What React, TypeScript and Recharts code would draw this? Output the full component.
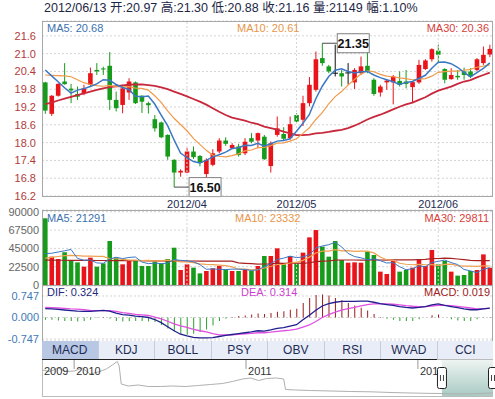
import React from "react";
import {
  Bar,
  CartesianGrid,
  Cell,
  ComposedChart,
  Line,
  LineChart,
  ReferenceArea,
  ReferenceDot,
  ReferenceLine,
  XAxis,
  YAxis,
} from "recharts";

const FONT = '"Liberation Sans", Arial, "Noto Sans CJK SC", sans-serif';
const RED = "#e8141a";
const GREEN = "#169c1a";

// trading days, 2012/03/01 - 2012/06/13
const marchDays = [1, 2, 5, 6, 7, 8, 9, 12, 13, 14, 15, 16, 19, 20, 21, 22, 23, 26, 27, 28, 29, 30];
const aprilDays = [5, 6, 9, 10, 11, 12, 13, 16, 17, 18, 19, 20, 23, 24, 25, 26, 27];
const mayDays = [2, 3, 4, 7, 8, 9, 10, 11, 14, 15, 16, 17, 18, 21, 22, 23, 24, 25, 28, 29, 30, 31];
const juneDays = [1, 4, 5, 6, 7, 8, 11, 12, 13];
const pad = (d: number) => String(d).padStart(2, "0");
const dates = [
  ...marchDays.map((d) => `2012/03/${pad(d)}`),
  ...aprilDays.map((d) => `2012/04/${pad(d)}`),
  ...mayDays.map((d) => `2012/05/${pad(d)}`),
  ...juneDays.map((d) => `2012/06/${pad(d)}`),
];
const monthTicks = ["2012/04/05", "2012/05/02", "2012/06/01"];

const opens = [
  20.03, 18.97, 19.58, 20.06, 19.82, 19.64, 19.67, 19.95, 20.45, 20.5,
  20.59, 19.44, 19.27, 19.69, 20.03, 19.58, 19.33, 18.79, 18.68, 18.26,
  17.42, 16.99, 16.99, 17.7, 17.55, 16.94, 17.25, 17.7, 18.07, 17.81,
  17.87, 17.64, 18.15, 18.07, 18.2, 17.21, 18.26, 18.29, 18.15, 18.93,
  18.77, 19.33, 19.78, 20.85, 20.57, 20.34, 20.34, 20.35, 20.03, 20.34,
  20.59, 20.12, 19.69, 20.03, 20.03, 20.08, 20.06, 19.87, 20.03, 20.48,
  20.81, 21.1, 20.48, 20.14, 20.25, 20.4, 20.4, 20.45, 20.68, 20.97,
];
const highs = [
  20.05, 19.6, 20.0, 20.68, 19.98, 19.89, 19.95, 20.53, 20.68, 20.56,
  21.05, 19.72, 19.95, 20.17, 20.06, 19.6, 19.38, 18.93, 18.71, 18.28,
  17.44, 17.1, 17.81, 17.87, 17.58, 17.47, 17.78, 18.15, 18.18, 17.98,
  17.96, 18.15, 18.32, 18.34, 18.26, 18.04, 18.88, 18.52, 18.88, 18.99,
  19.58, 20.21, 21.07, 21.35, 20.62, 21.3, 20.45, 20.68, 20.51, 20.9,
  21.18, 20.17, 19.95, 20.12, 20.28, 20.4, 20.45, 20.06, 20.79, 20.81,
  21.18, 21.3, 20.51, 20.51, 20.45, 20.53, 20.51, 20.85, 21.24, 21.3,
];
const lows = [
  18.97, 18.9, 19.55, 19.95, 19.33, 19.44, 19.6, 19.89, 20.28, 20.28,
  19.1, 19.05, 18.99, 19.44, 19.3, 19.0, 18.98, 18.37, 18.15, 17.42,
  16.5, 16.85, 16.97, 17.45, 17.2, 16.63, 17.2, 17.64, 17.89, 17.78,
  17.53, 17.58, 17.98, 17.81, 17.42, 16.99, 18.2, 18.07, 18.1, 18.66,
  18.56, 19.22, 19.72, 20.59, 20.34, 20.23, 19.89, 19.96, 19.81, 20.28,
  20.34, 19.58, 19.55, 19.78, 19.29, 19.89, 19.83, 19.35, 19.98, 20.45,
  20.73, 20.68, 20.0, 20.12, 20.12, 20.12, 20.17, 20.4, 20.62, 20.88,
];
const closes = [
  19.08, 19.58, 19.98, 19.97, 19.76, 19.55, 19.83, 20.34, 20.4, 20.48,
  19.44, 19.16, 19.83, 20.06, 19.33, 19.38, 19.26, 18.48, 18.18, 17.53,
  16.99, 17.05, 17.7, 17.51, 17.32, 17.42, 17.64, 18.07, 17.96, 17.92,
  17.58, 18.03, 18.03, 18.32, 17.44, 17.98, 18.48, 18.13, 18.62, 18.71,
  19.33, 19.95, 20.81, 20.68, 20.4, 20.34, 20.23, 20.35, 20.45, 20.57,
  20.4, 19.64, 19.89, 20.09, 20.23, 19.95, 19.98, 20.04, 20.62, 20.77,
  21.15, 20.96, 20.12, 20.28, 20.2, 20.28, 20.23, 20.81, 20.96, 21.16,
];
const ma5 = [
  20.45, 20.25, 20.05, 19.85, 19.67, 19.77, 19.82, 19.89, 19.98, 20.12,
  20.1, 19.96, 19.86, 19.79, 19.56, 19.55, 19.57, 19.3, 18.93, 18.57,
  18.09, 17.65, 17.49, 17.36, 17.31, 17.4, 17.52, 17.59, 17.68, 17.8,
  17.83, 17.91, 17.9, 17.98, 17.88, 17.96, 18.05, 18.07, 18.13, 18.38,
  18.65, 18.95, 19.48, 19.9, 20.23, 20.44, 20.49, 20.4, 20.35, 20.39,
  20.4, 20.28, 20.19, 20.12, 20.05, 19.96, 20.03, 20.06, 20.16, 20.27,
  20.51, 20.71, 20.72, 20.66, 20.54, 20.37, 20.22, 20.36, 20.5, 20.69,
];
const ma10 = [
  20.28, 20.27, 20.26, 20.25, 20.22, 20.12, 20.02, 19.96, 19.92, 19.9,
  19.93, 19.89, 19.88, 19.89, 19.84, 19.83, 19.77, 19.58, 19.36, 19.07,
  18.82, 18.61, 18.4, 18.14, 17.94, 17.74, 17.58, 17.54, 17.52, 17.56,
  17.62, 17.72, 17.75, 17.83, 17.84, 17.9, 17.98, 17.99, 18.05, 18.13,
  18.31, 18.5, 18.78, 19.01, 19.31, 19.55, 19.72, 19.94, 20.13, 20.31,
  20.42, 20.39, 20.3, 20.24, 20.22, 20.18, 20.16, 20.12, 20.14, 20.16,
  20.24, 20.37, 20.39, 20.41, 20.41, 20.44, 20.47, 20.54, 20.58, 20.62,
];
const ma30 = [
  19.3, 19.35, 19.42, 19.48, 19.54, 19.6, 19.66, 19.72, 19.78, 19.83,
  19.87, 19.9, 19.93, 19.95, 19.96, 19.96, 19.94, 19.91, 19.86, 19.8,
  19.72, 19.64, 19.56, 19.47, 19.38, 19.28, 19.16, 19.04, 18.93, 18.84,
  18.79, 18.74, 18.67, 18.62, 18.54, 18.49, 18.44, 18.37, 18.31, 18.25,
  18.25, 18.27, 18.31, 18.33, 18.36, 18.4, 18.43, 18.49, 18.57, 18.67,
  18.78, 18.87, 18.94, 19.03, 19.12, 19.21, 19.29, 19.35, 19.44, 19.53,
  19.65, 19.75, 19.82, 19.89, 19.98, 20.06, 20.11, 20.2, 20.28, 20.36,
];

const volumes = [
  81900, 34800, 31900, 40100, 29500, 27800, 22500, 33600, 22500, 26600,
  54000, 33600, 25400, 29500, 29500, 23300, 23300, 28700, 26600, 31900,
  45800, 18400, 25400, 21300, 14300, 17200, 20500, 23300, 19200, 17200,
  17200, 18400, 17200, 23300, 35600, 35600, 45000, 25400, 35600, 26600,
  39700, 58500, 67500, 47100, 34800, 54000, 30700, 27400, 27800, 27400,
  40900, 36800, 16400, 13500, 29500, 16400, 18400, 21300, 31900, 23300,
  43000, 25400, 29500, 16400, 11500, 12300, 17200, 18400, 37600, 21149,
];
const vma5 = [
  38500, 39000, 40500, 42000, 43640, 32820, 30360, 30700, 27180, 26600,
  31840, 34060, 32420, 33820, 34400, 28260, 26200, 26860, 26280, 26760,
  31260, 30280, 29620, 28560, 25040, 19320, 19740, 19320, 18900, 19480,
  19480, 19060, 17840, 18660, 22340, 26020, 31340, 32980, 35440, 33640,
  34460, 37160, 45580, 47880, 49520, 52380, 46820, 38800, 34940, 33460,
  30840, 32060, 29860, 27000, 27420, 22520, 18840, 19820, 23500, 22260,
  27580, 28980, 30620, 27520, 25160, 19020, 17380, 15160, 19400, 21291,
];
const vma10 = [
  33000, 34000, 35000, 36000, 36500, 36000, 35500, 35500, 35200, 35120,
  32330, 32210, 31560, 30500, 30500, 30050, 30130, 29640, 30050, 30580,
  29760, 28240, 28240, 27420, 25900, 25290, 25010, 24470, 23730, 22260,
  19400, 19400, 18580, 18780, 20910, 22750, 25200, 25410, 27050, 27990,
  30240, 34250, 39280, 41660, 41580, 43420, 41990, 42190, 41410, 41490,
  41610, 39440, 34330, 30970, 30440, 26680, 25450, 24840, 25250, 24840,
  25050, 23910, 25220, 25510, 23710, 23300, 23180, 22890, 23460, 23332,
];
const vma30 = [
  30500, 30500, 30400, 30400, 30300, 30300, 30200, 30200, 30100, 30100,
  30000, 30000, 29900, 29900, 29800, 29800, 29700, 29700, 29600, 29600,
  29600, 29500, 29500, 29500, 29400, 29400, 29400, 29400, 29350, 29320,
  27160, 26620, 26130, 25570, 25770, 26030, 26780, 26510, 26940, 26940,
  26470, 27300, 28700, 29290, 29460, 30490, 30730, 30690, 30730, 30580,
  30420, 31030, 30730, 30470, 30980, 30950, 30880, 30810, 31240, 31440,
  32300, 32530, 32940, 32710, 31910, 31130, 30210, 29970, 30040, 29811,
];

const dif = [
  0.31, 0.3, 0.28, 0.26, 0.24, 0.22, 0.21, 0.21, 0.23, 0.25,
  0.22, 0.15, 0.1, 0.08, 0.05, 0.03, 0.0, -0.07, -0.18, -0.32,
  -0.46, -0.58, -0.64, -0.69, -0.71, -0.71, -0.7, -0.66, -0.62, -0.59,
  -0.56, -0.53, -0.5, -0.46, -0.47, -0.43, -0.38, -0.35, -0.3, -0.25,
  -0.08, 0.08, 0.25, 0.4, 0.48, 0.53, 0.56, 0.56, 0.56, 0.57,
  0.57, 0.53, 0.48, 0.45, 0.42, 0.38, 0.35, 0.33, 0.35, 0.38,
  0.44, 0.47, 0.42, 0.38, 0.34, 0.3, 0.27, 0.27, 0.3, 0.324,
];
const dea = [
  0.35, 0.34, 0.33, 0.32, 0.3, 0.29, 0.27, 0.25, 0.24, 0.24,
  0.24, 0.21, 0.17, 0.145, 0.11, 0.09, 0.07, 0.01, -0.05, -0.13,
  -0.22, -0.29, -0.34, -0.41, -0.46, -0.5, -0.56, -0.6, -0.6, -0.6,
  -0.585, -0.565, -0.55, -0.53, -0.53, -0.51, -0.48, -0.46, -0.435, -0.4,
  -0.33, -0.26, -0.14, 0.0, 0.1, 0.19, 0.26, 0.31, 0.35, 0.4,
  0.45, 0.47, 0.47, 0.47, 0.46, 0.44, 0.41, 0.39, 0.38, 0.38,
  0.4, 0.42, 0.42, 0.41, 0.39, 0.36, 0.33, 0.3, 0.31, 0.314,
];
const macd = [
  -0.08, -0.08, -0.1, -0.12, -0.12, -0.14, -0.12, -0.08, -0.02, 0.02,
  -0.04, -0.12, -0.14, -0.13, -0.12, -0.12, -0.14, -0.16, -0.26, -0.38,
  -0.48, -0.58, -0.6, -0.56, -0.5, -0.42, -0.28, -0.12, -0.04, 0.02,
  0.05, 0.07, 0.1, 0.14, 0.12, 0.16, 0.2, 0.22, 0.27, 0.3,
  0.5, 0.68, 0.78, 0.8, 0.76, 0.68, 0.6, 0.5, 0.42, 0.34,
  0.24, 0.12, 0.02, -0.04, -0.08, -0.12, -0.12, -0.12, -0.06, 0.0,
  0.08, 0.1, 0.0, -0.06, -0.1, -0.12, -0.12, -0.06, -0.02, 0.019,
];

const priceTicks = [16.2, 16.8, 17.4, 18.0, 18.6, 19.2, 19.8, 20.4, 21.0, 21.6];
const volTicks = [0, 22500, 45000, 67500, 90000];
const macdTicks = [-0.747, 0, 0.747];

// navigator: long history, time in years
const navT = [
  2009.813, 2009.86, 2009.907, 2009.953, 2010.0, 2010.047, 2010.093, 2010.14, 2010.187, 2010.222,
  2010.251, 2010.262, 2010.274, 2010.315, 2010.373, 2010.431, 2010.501, 2010.571, 2010.647, 2010.723,
  2010.793, 2010.863, 2010.921, 2010.98, 2011.026, 2011.073, 2011.12, 2011.178, 2011.219, 2011.23,
  2011.289, 2011.376, 2011.493, 2011.609, 2011.726, 2011.843, 2011.959, 2012.076, 2012.14, 2012.222,
  2012.309, 2012.397, 2012.437,
];
const navV = [
  26, 24.5, 28, 24.5, 25, 28, 22, 24, 27, 31,
  34.5, 30, 12, 10, 11, 9.5, 9.5, 10, 9.5, 10.5,
  11.5, 12.5, 14.5, 17, 18, 15.5, 17.5, 18, 17, 6.5,
  6, 5.5, 5, 4.5, 4.2, 3.5, 3, 2.6, 2.5, 2.0,
  2.1, 2.8, 3.0,
];
const navYears = [2010, 2011, 2012];
const navSelect = [2012.14, 2012.437];
const tabs = ["MACD", "KDJ", "BOLL", "PSY", "OBV", "RSI", "WVAD", "CCI"];

const rows = dates.map((date, i) => ({
  date,
  open: opens[i],
  high: highs[i],
  low: lows[i],
  close: closes[i],
  range: [lows[i], highs[i]],
  ma5: ma5[i],
  ma10: ma10[i],
  ma30: ma30[i],
  vol: volumes[i],
  vma5: vma5[i],
  vma10: vma10[i],
  vma30: vma30[i],
  dif: dif[i],
  dea: dea[i],
  macd: macd[i],
}));
const navData = navT.map((t, i) => ({ t, v: navV[i] }));

const volColor = (i: number) => {
  const r = rows[i];
  if (r.close > r.open) return RED;
  if (r.close < r.open) return GREEN;
  return i > 0 && r.close >= rows[i - 1].close ? RED : GREEN;
};

const Candle = (props: any) => {
  const { x, y, width, height, payload } = props;
  const { open, close, high, low } = payload;
  const k = height / (high - low);
  const yOf = (v: number) => y + (high - v) * k;
  const cx = x + width / 2;
  const flat = open === close;
  const color = flat ? "#111" : close > open ? RED : GREEN;
  const top = yOf(Math.max(open, close));
  const bot = yOf(Math.min(open, close));
  return (
    <g>
      <line x1={cx} x2={cx} y1={y} y2={y + height} stroke={color} strokeWidth={1} />
      {flat ? (
        <line x1={x - 0.5} x2={x + width + 0.5} y1={top} y2={top} stroke={color} strokeWidth={1} />
      ) : (
        <rect x={x} y={top} width={width} height={Math.max(1, bot - top)} fill={color} />
      )}
    </g>
  );
};

const markLabel = (text: string) => (props: any) => {
  const { cx, cy } = props;
  const bx = cx + 15;
  return (
    <g>
      <line x1={cx} y1={cy} x2={bx} y2={cy} stroke="#4a4a4a" />
      <rect x={bx} y={cy - 9.5} width={32} height={19} fill="#fff" stroke="#808080" />
      <text x={bx + 16} y={cy + 4.5} textAnchor="middle" fontSize={12.5} fontWeight="bold" fill="#111" fontFamily={FONT}>
        {text}
      </text>
    </g>
  );
};

const yearLabel = (text: string, tick: boolean) => (props: any) => {
  const { cx, cy } = props;
  return (
    <g>
      {tick && <line x1={cx} x2={cx} y1={cy} y2={cy + 9} stroke="#999" />}
      <text x={cx + 2} y={cy + 15} fontSize={11} fill="#333" fontFamily={FONT}>
        {text}
      </text>
    </g>
  );
};

const Handle = (props: any) => {
  const { cx, cy } = props;
  return (
    <g>
      <rect x={cx - 4.5} y={cy - 10.5} width={9} height={21} rx={2} fill="#fff" stroke="#222" />
      <line x1={cx - 1.5} x2={cx - 1.5} y1={cy - 3} y2={cy + 3} stroke="#444" />
      <line x1={cx + 1.5} x2={cx + 1.5} y1={cy - 3} y2={cy + 3} stroke="#444" />
    </g>
  );
};

const Txt = ({ left, right, top, color, children }: any) => (
  <div
    style={{
      position: "absolute",
      left,
      right,
      top,
      fontSize: 11,
      lineHeight: "12px",
      color,
      whiteSpace: "pre",
    }}
  >
    {children}
  </div>
);

const frame = (left: number, top: number, width: number, height: number, color = "#a8a8a8") => (
  <div
    style={{
      position: "absolute",
      left,
      top,
      width,
      height,
      boxSizing: "border-box",
      border: `1px solid ${color}`,
      pointerEvents: "none",
    }}
  />
);

const gridStroke = "#d4d4d4";

export default function App() {
  return (
    <div
      style={{
        position: "absolute",
        left: 0,
        top: 0,
        width: 495,
        height: 399,
        background: "#fff",
        overflow: "hidden",
        fontFamily: FONT,
      }}
    >
      <div style={{ position: "absolute", left: 44, top: 1, fontSize: 12.5, lineHeight: "15px", color: "#1d2745", whiteSpace: "pre" }}>
        2012/06/13 开:20.97 高:21.30 低:20.88 收:21.16 量:21149 幅:1.10%
      </div>

      {/* price panel */}
      <div style={{ position: "absolute", left: 0, top: 0 }}>
        <ComposedChart width={495} height={212} data={rows} margin={{ top: 21, right: 2, bottom: 0, left: 0 }}>
          <CartesianGrid vertical={false} stroke={gridStroke} strokeDasharray="2 2" />
          <XAxis
            dataKey="date"
            ticks={monthTicks}
            interval={0}
            tickFormatter={(d: string) => d.slice(0, 7)}
            height={16}
            tickSize={2}
            tickMargin={2}
            axisLine={false}
            tickLine={false}
            tick={{ fontSize: 11, fill: "#1c2b50", fontFamily: FONT }}
          />
          <YAxis
            domain={[16.2, 22.1]}
            ticks={priceTicks}
            interval={0}
            width={42}
            tickSize={4}
            tickMargin={2}
            axisLine={false}
            tickLine={false}
            tickFormatter={(v: number) => v.toFixed(1)}
            tick={{ fontSize: 11, fill: "#b33a3a", fontFamily: FONT }}
          />
          {monthTicks.map((m) => (
            <ReferenceLine key={m} x={m} stroke={gridStroke} strokeDasharray="2 2" />
          ))}
          <Bar dataKey="range" barSize={4.6} shape={Candle} isAnimationActive={false} />
          <Line dataKey="ma30" stroke="#c8283c" strokeWidth={1.8} dot={false} isAnimationActive={false} />
          <Line dataKey="ma10" stroke="#f09a4a" strokeWidth={1.2} dot={false} isAnimationActive={false} />
          <Line dataKey="ma5" stroke="#3b78c4" strokeWidth={1.5} dot={false} isAnimationActive={false} />
          <ReferenceDot x={dates[43]} y={21.35} r={0} shape={markLabel("21.35")} ifOverflow="visible" />
          <ReferenceDot x={dates[20]} y={16.5} r={0} shape={markLabel("16.50")} ifOverflow="visible" />
        </ComposedChart>
      </div>
      {frame(42, 21, 451, 176)}
      <Txt left={47} top={22} color="#3b72b0">MA5: 20.68</Txt>
      <Txt left={237} top={22} color="#e8964a">MA10: 20.61</Txt>
      <Txt right={6} top={22} color="#d9403a">MA30: 20.36</Txt>

      {/* volume panel */}
      <div style={{ position: "absolute", left: 0, top: 200 }}>
        <ComposedChart width={495} height={92} data={rows} margin={{ top: 10, right: 2, bottom: 7, left: 0 }}>
          <CartesianGrid vertical={false} stroke={gridStroke} strokeDasharray="2 2" />
          <XAxis dataKey="date" hide />
          <YAxis
            domain={[0, 92100]}
            ticks={volTicks}
            interval={0}
            width={42}
            tickSize={1}
            tickMargin={2}
            axisLine={false}
            tickLine={false}
            tick={{ fontSize: 11, fill: "#666", fontFamily: FONT }}
          />
          {monthTicks.map((m) => (
            <ReferenceLine key={m} x={m} stroke={gridStroke} strokeDasharray="2 2" />
          ))}
          <Bar dataKey="vol" barSize={4.6} isAnimationActive={false}>
            {rows.map((r, i) => (
              <Cell key={r.date} fill={volColor(i)} />
            ))}
          </Bar>
          <Line dataKey="vma30" stroke="#a82020" strokeWidth={1.2} dot={false} isAnimationActive={false} />
          <Line dataKey="vma10" stroke="#f0a050" strokeWidth={1.2} dot={false} isAnimationActive={false} />
          <Line dataKey="vma5" stroke="#3b78c4" strokeWidth={1} dot={false} isAnimationActive={false} />
        </ComposedChart>
      </div>
      {frame(42, 210, 451, 76)}
      <Txt left={47} top={212} color="#3b72b0">MA5: 21291</Txt>
      <Txt left={235} top={212} color="#e8964a">MA10: 23332</Txt>
      <Txt right={6} top={212} color="#d9403a">MA30: 29811</Txt>

      {/* MACD panel */}
      <div style={{ position: "absolute", left: 0, top: 275 }}>
        <ComposedChart width={495} height={70} data={rows} margin={{ top: 11, right: 2, bottom: 4, left: 0 }}>
          <CartesianGrid vertical={false} stroke={gridStroke} strokeDasharray="2 2" />
          <XAxis dataKey="date" hide />
          <YAxis
            domain={[-0.816, 1.094]}
            ticks={macdTicks}
            interval={0}
            width={42}
            tickSize={1}
            tickMargin={2}
            axisLine={false}
            tickLine={false}
            tickFormatter={(v: number) => v.toFixed(3)}
            tick={{ fontSize: 11, fill: "#3d7ab8", fontFamily: FONT }}
          />
          <Bar dataKey="macd" barSize={1} isAnimationActive={false}>
            {rows.map((r) => (
              <Cell key={r.date} fill={r.macd >= 0 ? "#9b1b1b" : "#2ca02c"} />
            ))}
          </Bar>
          <Line dataKey="dea" stroke="#e050e0" strokeWidth={1.3} dot={false} isAnimationActive={false} />
          <Line dataKey="dif" stroke="#1f1f8f" strokeWidth={1.3} dot={false} isAnimationActive={false} />
        </ComposedChart>
      </div>
      {frame(42, 285, 451, 57)}
      <Txt left={47} top={286} color="#1f2a80">DIF: 0.324</Txt>
      <Txt left={241} top={286} color="#d040d0">DEA: 0.314</Txt>
      <Txt right={5} top={286} color="#a02020">MACD: 0.019</Txt>

      {/* tabs */}
      <div style={{ position: "absolute", left: 42, top: 341, width: 451, height: 18, display: "flex" }}>
        {tabs.map((t, i) => (
          <div
            key={t}
            style={{
              flex: 1,
              background: i === 0 ? "#b7c7e4" : "#e8edf7",
              borderRight: i < tabs.length - 1 ? "1px solid #c3cde0" : "none",
              textAlign: "center",
              fontSize: 12,
              lineHeight: "18px",
              color: "#1e2c55",
            }}
          >
            {t}
          </div>
        ))}
      </div>

      {/* navigator */}
      {frame(42, 359, 451, 38, "#bbbbbb")}
      <div style={{ position: "absolute", left: 0, top: 360 }}>
        <LineChart width={495} height={36} data={navData} margin={{ top: 0, right: 2, bottom: 0, left: 42 }}>
          <defs>
            <linearGradient id="navSel" x1="0" y1="0" x2="0" y2="1">
              <stop offset="0%" stopColor="#eef4f2" />
              <stop offset="100%" stopColor="#a9cac3" />
            </linearGradient>
          </defs>
          <XAxis type="number" dataKey="t" domain={[2009.813, 2012.437]} hide />
          <YAxis domain={[0, 36]} hide />
          <ReferenceArea x1={navSelect[0]} x2={navSelect[1]} y1={0} y2={36} fill="url(#navSel)" fillOpacity={1} stroke="none" ifOverflow="visible" />
          <Line dataKey="v" stroke="#b0b0b0" strokeWidth={1} dot={false} isAnimationActive={false} />
          <ReferenceDot x={navT[0]} y={36} r={0} shape={yearLabel("2009", false)} ifOverflow="visible" />
          {navYears.map((y) => (
            <ReferenceDot key={y} x={y} y={36} r={0} shape={yearLabel(String(y), true)} ifOverflow="visible" />
          ))}
          <ReferenceDot x={navSelect[0]} y={18} r={0} shape={Handle} ifOverflow="visible" />
          <ReferenceDot x={navSelect[1]} y={18} r={0} shape={Handle} ifOverflow="visible" />
        </LineChart>
      </div>
      <div style={{ position: "absolute", left: 42, top: 359, width: 395, height: 1, background: "#222" }} />
    </div>
  );
}
